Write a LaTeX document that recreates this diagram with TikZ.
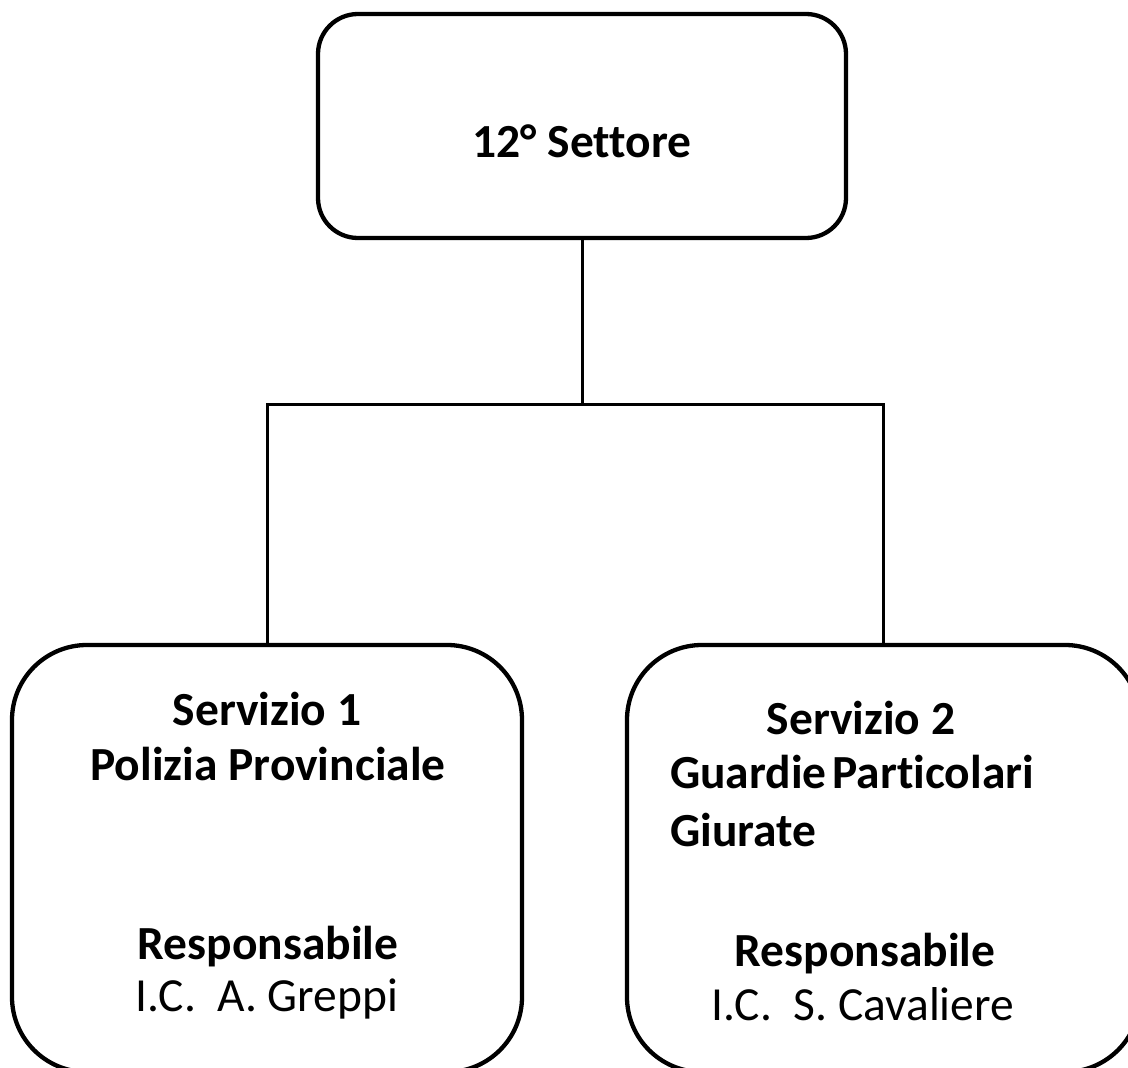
\documentclass[tikz,border=0pt]{standalone}
\usepackage{fontspec}
\setmainfont[Ligatures=CommonOff]{Carlito}
\begin{document}
\begin{tikzpicture}[x=1pt,y=-1pt,
  orgbox/.style={draw=black, line width=4.3pt, fill=none, inner sep=0pt},
  conn/.style={draw=black, line width=3pt},
  bold/.style={font=\fontsize{47.5}{57}\selectfont\bfseries, inner sep=0pt, anchor=base},
  plain/.style={font=\fontsize{47.5}{57}\selectfont, inner sep=0pt, anchor=base}]
\useasboundingbox (0,0) rectangle (1128,1068);
\fill[white] (0,0) rectangle (1128,1068);
\clip (0,0) rectangle (1128,1068);
% boxes
\node[orgbox, rounded corners=40pt, minimum width=528pt, minimum height=224pt] (top) at (582,126) {};
\node[orgbox, rounded corners=75pt, minimum width=510pt, minimum height=427pt] (s1) at (267,858.5) {};
\node[orgbox, rounded corners=75pt, minimum width=513pt, minimum height=427pt] (s2) at (883.5,858.5) {};
% connectors
\coordinate (bus) at (582,404);
\draw[conn] (top.south) -- (bus);
\draw[conn] (s1.north) |- (bus) -| (s2.north);
% texts
\node[bold] (t0) at (582,157) {12° Settore};
\node[bold] (a1) at (267,725) {Servizio 1};
\node[bold] (a2) at (268,780) {Polizia Provinciale};
\node[bold] (a3) at (268,959) {Responsabile};
\node[plain] (a4) at (267,1011) {I.C.\ \ A. Greppi};
\node[bold] (b1) at (861,734) {Servizio 2};
\node[bold, anchor=base west] (b2) at (670,788) {Guardie\hspace{0.12em}Particolari};
\node[bold, anchor=base west] (b3) at (670,846) {Giurate};
\node[bold] (b4) at (865,966) {Responsabile};
\node[plain] (b5) at (863,1020) {I.C.\ \ S. Cavaliere};
\end{tikzpicture}
\end{document}
